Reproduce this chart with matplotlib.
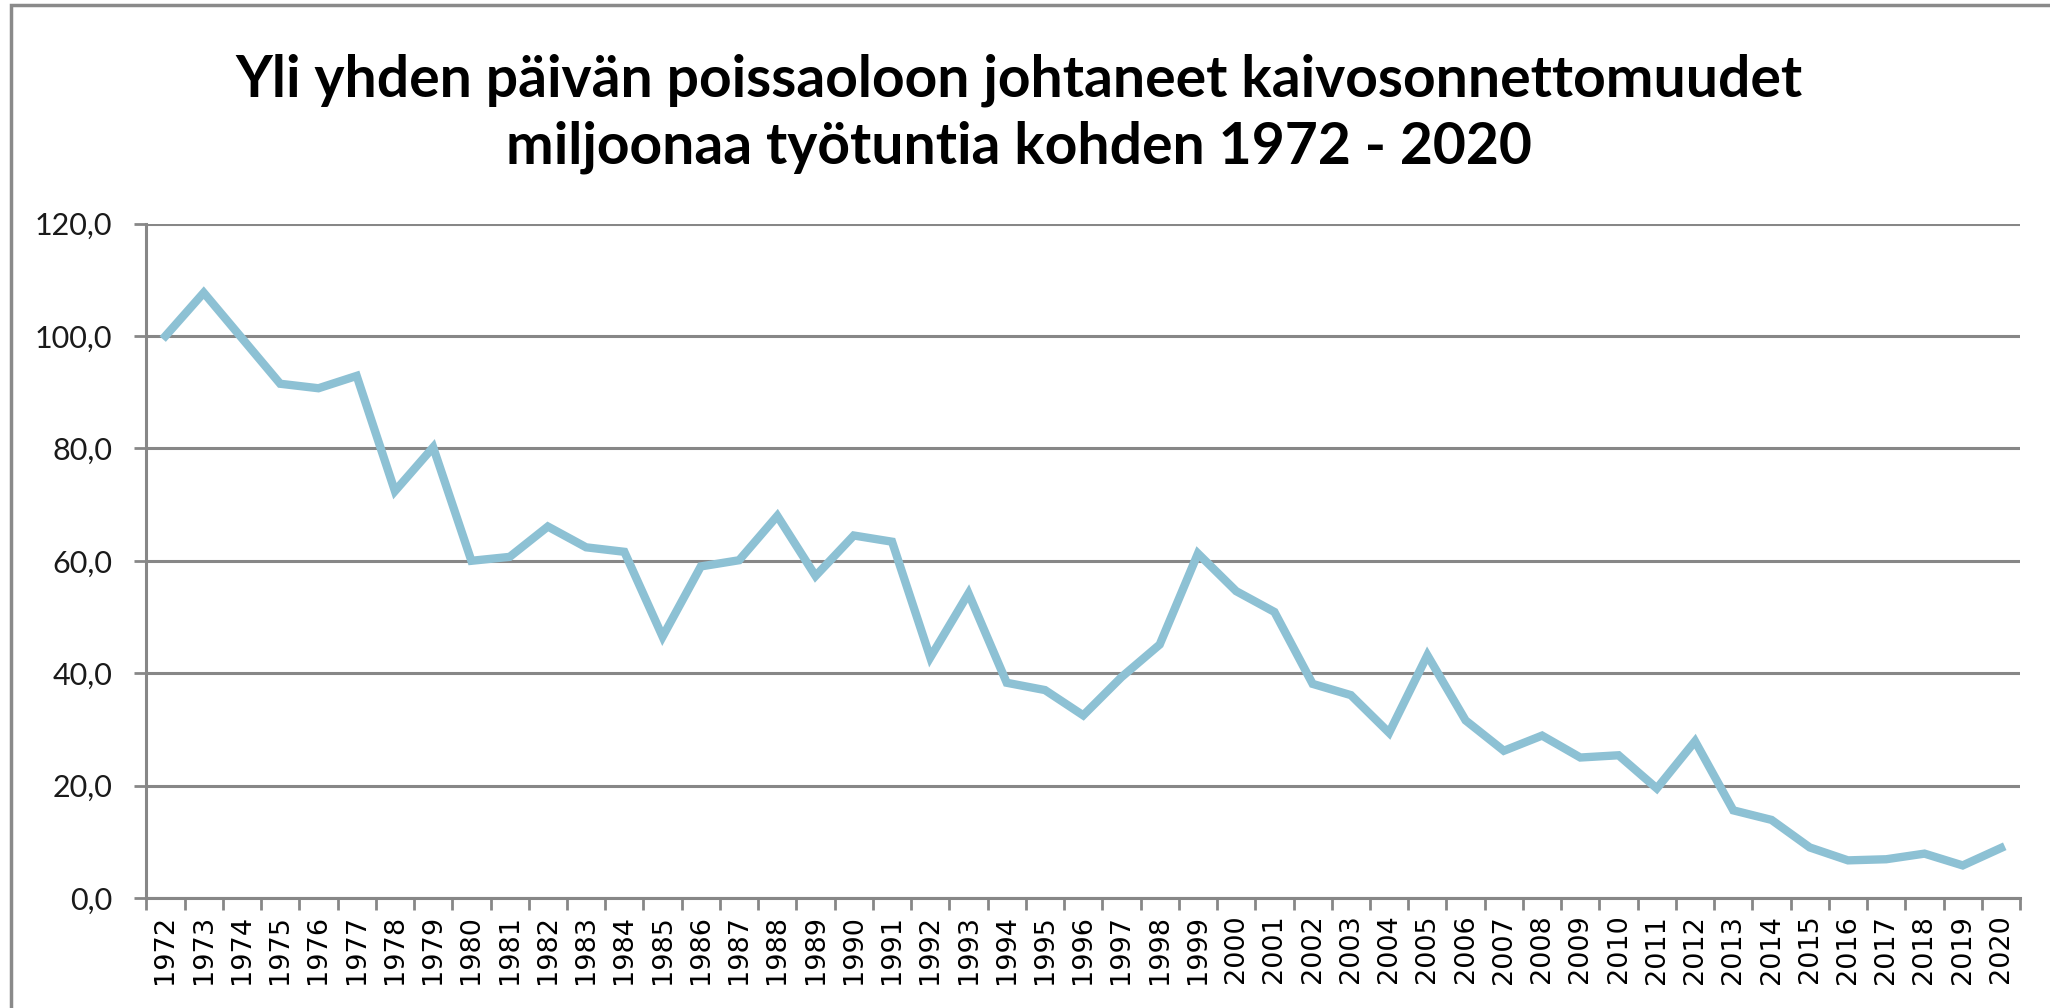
import numpy as np
import matplotlib
matplotlib.use("Agg")
import matplotlib.pyplot as plt
from matplotlib.patches import Rectangle
from matplotlib.ticker import FuncFormatter

# data
years = list(range(1972, 2021))
values = [100.0, 107.7, 99.6, 91.5, 90.7, 92.9, 72.4, 80.2, 60.0, 60.7,
          66.1, 62.4, 61.6, 46.5, 59.0, 60.1, 68.0, 57.3, 64.5, 63.4,
          42.8, 54.2, 38.3, 37.0, 32.5, 39.3, 45.1, 61.3, 54.6, 50.9,
          38.1, 36.1, 29.4, 43.2, 31.6, 26.2, 28.9, 25.0, 25.4, 19.5,
          27.9, 15.6, 13.9, 9.0, 6.7, 6.9, 7.9, 5.8, 8.9]
y_ticks = [0, 20, 40, 60, 80, 100, 120]

title = ("Yli yhden päivän poissaoloon johtaneet kaivosonnettomuudet\n"
         "miljoonaa työtuntia kohden 1972 - 2020")

line_color = "#8DC1D4"
grid_color = "#878787"

fig = plt.figure(figsize=(20.5, 10.08), dpi=100)
ax = fig.add_axes([0.0714, 0.1091, 0.914, 0.6691])

x = np.arange(len(years))
ax.plot(x, values, color=line_color, linewidth=6, solid_joinstyle="miter")

# y axis
ax.set_ylim(0, 120)
ax.set_yticks(y_ticks)
ax.yaxis.set_major_formatter(FuncFormatter(lambda v, p: f"{v:.1f}".replace(".", ",")))
ax.grid(axis="y", color=grid_color, linewidth=2.2)
ax.set_axisbelow(True)

# x axis: ticks on category boundaries, labels in the middle
ax.set_xlim(-0.5, len(years) - 0.5)
ax.set_xticks(np.arange(-0.5, len(years)))
ax.set_xticklabels([])
ax.set_xticks(x, minor=True)
ax.set_xticklabels([str(y) for y in years], minor=True, rotation=90,
                   fontsize=19.5, family="DejaVu Sans")
ax.tick_params(axis="x", which="major", length=8.5, width=2, color=grid_color)
ax.tick_params(axis="x", which="minor", length=0, pad=12)
ax.tick_params(axis="y", length=8.5, width=2, color=grid_color, pad=16,
               labelsize=22)
for lab in ax.get_yticklabels():
    lab.set_family("Lato")
    lab.set_color("#1a1a1a")

for side in ["top", "right"]:
    ax.spines[side].set_visible(False)
for side in ["left", "bottom"]:
    ax.spines[side].set_color(grid_color)
    ax.spines[side].set_linewidth(2.2)

# title
fig.text(0.497, 0.887, title, ha="center", va="center", fontsize=41,
         fontweight="bold", family="Lato", linespacing=1.33)

# chart frame (cropped at right and bottom in the reference)
fig.patches.append(Rectangle((11 / 2050, -0.1), 1.2, 1.1 - 5 / 1008,
                             transform=fig.transFigure, fill=False,
                             edgecolor="#8a8a8a", linewidth=2.5))

plt.savefig("out.png", dpi=100)
